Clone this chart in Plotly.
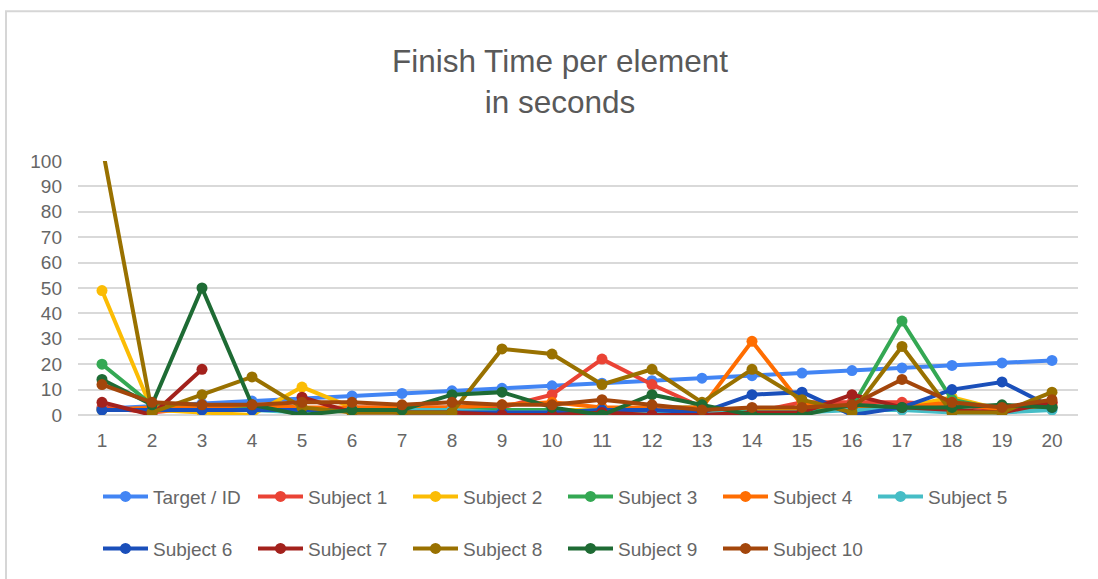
import plotly.graph_objects as go

# Element IDs along the x axis
elements = list(range(1, 21))

# Finish times (seconds) per element
target_id  = [2.5, 3.5, 4.5, 5.5, 6.5, 7.5, 8.5, 9.5, 10.5, 11.5, 12.5, 13.5, 14.5, 15.5, 16.5, 17.5, 18.5, 19.5, 20.5, 21.5]
subject_1  = [3, 1, 3, 3, 2, 3, 3, 3, 3, 8, 22, 12, 3, 1, 5, 5, 5, 4, 2, 5]
subject_2  = [49, 2, 1, 0, 11, 3, 1, 1, 2, 2, 2, 2, 2, 2, 2, 2, 3, 7, 2, 3]
subject_3  = [20, 4, 3, 3, 1, 2, 2, 2, 2, 2, 1, 3, 3, 1, 1, 3, 37, 6, 2, 3]
subject_4  = [2, 3, 3, 4, 3, 3, 3, 3, 4, 5, 3, 3, 3, 29, 4, 3, 3, 5, 2, 4]
subject_5  = [2, 2, 2, 2, 1, 2, 2, 2, 1, 1, 2, 1, 1, 1, 1, 2, 2, 1, 1, 2]
subject_6  = [2, 2, 2, 2, 2, 2, 1, 1, 1, 1, 2, 2, 1, 8, 9, 0, 3, 10, 13, 3]
subject_7  = [5, 0, 18, None, 7, 1, 1, 1, 0, 0, 1, 0, 0, 1, 1, 8, 3, 2, 1, 5]
subject_8  = [106, 1, 8, 15, 3, 1, 1, 1, 26, 24, 12, 18, 5, 18, 6, 1, 27, 1, 1, 9]
subject_9  = [14, 4, 50, 4, 0, 2, 2, 8, 9, 3, 0, 8, 4, 0, 0, 4, 3, 3, 4, 3]
subject_10 = [12, 5, 4, 4, 5, 5, 4, 5, 4, 4, 6, 4, 2, 3, 3, 4, 14, 5, 3, 6]

series_names = ["Target / ID", "Subject 1", "Subject 2", "Subject 3", "Subject 4",
                "Subject 5", "Subject 6", "Subject 7", "Subject 8", "Subject 9", "Subject 10"]
series_values = [target_id, subject_1, subject_2, subject_3, subject_4,
                 subject_5, subject_6, subject_7, subject_8, subject_9, subject_10]
series_colors = ["#4285F4", "#EA4335", "#FBBC04", "#34A853", "#FF6D01",
                 "#46BDC6", "#1A4FBA", "#A3211C", "#997100", "#1E6B34", "#A3460B"]

FONT = "Liberation Sans, Arial, sans-serif"

fig = go.Figure()
for i, (name, vals, col) in enumerate(zip(series_names, series_values, series_colors)):
    fig.add_trace(go.Scatter(
        x=elements, y=vals, name=name, mode="lines+markers",
        line=dict(color=col, width=4),
        marker=dict(color=col, size=11),
        connectgaps=False,
        legend="legend" if i < 6 else "legend2",
    ))

legend_common = dict(
    orientation="h",
    font=dict(family=FONT, size=19, color="#666666"),
    itemwidth=45,
    entrywidthmode="pixels",
    entrywidth=95,
    bgcolor="rgba(0,0,0,0)",
    xanchor="left",
    yanchor="middle",
    traceorder="normal",
)

fig.update_layout(
    width=1098, height=579,
    paper_bgcolor="white", plot_bgcolor="white",
    margin=dict(l=78, r=20, t=161, b=164),
    title=dict(
        text="Finish Time per element<br>in seconds",
        font=dict(family=FONT, size=31.5, color="#595959"),
        x=0.51, xanchor="center", xref="container",
        y=1 - 72 / 579, yanchor="top", yref="container",
    ),
    xaxis=dict(
        range=[0.52, 20.52], tickmode="array", tickvals=elements,
        ticktext=[str(e) for e in elements],
        showgrid=False, zeroline=False, showline=False,
        tickfont=dict(family=FONT, size=19, color="#666666"),
        ticks="", ticklabelstandoff=12,
    ),
    yaxis=dict(
        range=[0, 100], tickmode="array", tickvals=list(range(0, 101, 10)),
        showgrid=True, gridcolor="#d9d9d9", gridwidth=1.5,
        zeroline=True, zerolinecolor="#d9d9d9", zerolinewidth=1.5,
        showline=False,
        tickfont=dict(family=FONT, size=19, color="#666666"),
        ticks="", ticklabelstandoff=15,
    ),
    legend=dict(x=0.02, y=-0.321, **legend_common),
    legend2=dict(x=0.02, y=-0.526, **legend_common),
    showlegend=True,
)

# light frame around the chart card
fig.add_shape(type="rect", xref="paper", yref="paper",
              x0=(6 - 78) / 1000, x1=1.2, y0=-1.0, y1=(414.7 - 12) / 253.3,
              line=dict(color="#d6d6d6", width=2), fillcolor="rgba(0,0,0,0)", layer="below")

fig.write_html("out.html")
